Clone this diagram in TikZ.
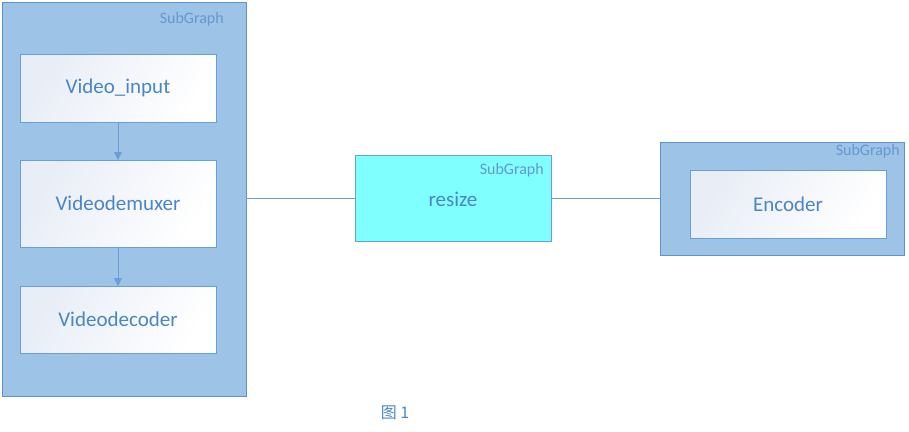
\documentclass[tikz,border=0pt]{standalone}
\usepackage{fontspec}
\setmainfont{Carlito}
\newfontfamily\cjk{Noto Sans CJK SC}
\usetikzlibrary{arrows.meta}
\definecolor{sgfill}{HTML}{9DC3E6}
\definecolor{sgline}{HTML}{5B93CC}
\definecolor{txtblue}{HTML}{4A86C6}
\definecolor{boxline}{HTML}{6A9FD6}
\definecolor{boxshade}{HTML}{E8EDF6}
\definecolor{resizefill}{HTML}{80FFFF}
\tikzset{
  subgraph/.style={draw=sgline, fill=sgfill, line width=1pt, inner sep=0pt, outer sep=0pt},
  sglabel/.style={text=txtblue!85, font=\fontsize{16}{18}\selectfont, anchor=east, inner sep=0pt},
  stagebox/.style={draw=boxline, line width=1pt, inner sep=0pt, outer sep=0pt,
    minimum width=196pt, shading=axis, left color=boxshade, right color=white, shading angle=60,
    text=txtblue, font=\fontsize{21}{24}\selectfont},
  link/.style={draw=boxline, line width=0.8pt}
}
\begin{document}
\begin{tikzpicture}[x=1pt, y=-1pt]
        \useasboundingbox (0,0) rectangle (909,431);

        % left subgraph
        \node [subgraph, minimum width=244pt, minimum height=394pt] (sgleft) at (124,199) {};
        \node [sglabel] (sgleftlabel) at (224,19) {SubGraph};
        \node [stagebox, minimum height=68pt] (vinput) at (118,88) {Video\_input};
        \node [stagebox, minimum height=87pt] (vdemux) at (118,203.5) {Videodemuxer};
        \node [stagebox, minimum height=67pt] (vdecode) at (118,319.5) {Videodecoder};
        \draw [link, -{Triangle[length=8pt, width=8pt]}] (vinput) -- (vdemux);
        \draw [link, -{Triangle[length=8pt, width=8pt]}] (vdemux) -- (vdecode);

        % resize
        \node [draw=boxline, fill=resizefill, line width=1pt, inner sep=0pt, outer sep=0pt,
               minimum width=196pt, minimum height=86pt] (resize) at (453,198) {};
        \node [sglabel] (resizelabel) at (544,170) {SubGraph};
        \node [text=txtblue, font=\fontsize{21}{24}\selectfont, inner sep=0pt] (resizetext) at (453,199) {resize};

        % right subgraph
        \node [subgraph, minimum width=244pt, minimum height=113pt] (sgright) at (782,198.5) {};
        \node [sglabel] (sgrightlabel) at (900,151) {SubGraph};
        \node [stagebox, minimum height=68pt] (encoder) at (788,204) {Encoder};

        \draw [link] (resize.west -| sgleft.east) -- (resize.west);
        \draw [link] (resize.east) -- (resize.east -| sgright.west);

        \node [text=txtblue, font=\cjk\fontsize{16}{18}\selectfont] (caption) at (395,413) {图 1};
    \end{tikzpicture}
\end{document}
